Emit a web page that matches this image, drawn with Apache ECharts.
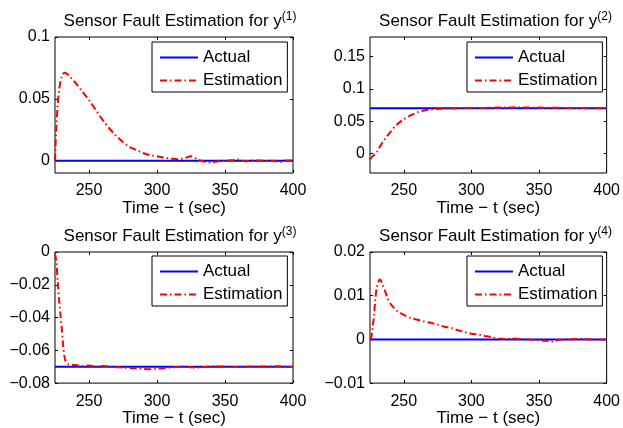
<!DOCTYPE html>
<html>
<head>
<meta charset="utf-8">
<script src="https://cdn.jsdelivr.net/npm/echarts@6/dist/echarts.min.js"></script>
<style>
  html, body { margin: 0; padding: 0; background: #fff; }
  #chart { width: 623px; height: 428px; }
</style>
</head>
<body>
<div id="chart"></div>
<script>
// Sensor fault estimates for the four outputs, sampled over t = 225..400 s
const t1 = [225,226,227,228,230,232,234,236,240,245,250,255,260,265,270,275,280,285,290,295,300,305,310,315,320,325,330,335,340,345,350,355,360,365,370,375,380,385,390,395,400];
const est1 = [0,0.028,0.045,0.057,0.068,0.071,0.070,0.068,0.063,0.056,0.049,0.041,0.033,0.026,0.020,0.015,0.011,0.0085,0.006,0.0045,0.0035,0.0025,0.0018,0.0012,0.002,0.0035,0.001,-0.001,-0.0015,-0.0005,0,0.0003,0.001,-0.0005,0,0.0002,-0.0003,0,-0.0012,0.0002,0];

const t2 = [225,227,230,233,236,240,245,250,255,260,265,270,275,280,290,300,310,320,330,335,340,350,360,370,380,390,400];
const est2 = [-0.009,-0.004,0.002,0.013,0.022,0.033,0.045,0.053,0.059,0.0635,0.0665,0.068,0.069,0.0695,0.0700,0.0705,0.0705,0.071,0.0712,0.0715,0.0712,0.071,0.0708,0.0705,0.0702,0.0700,0.0698];

const t3 = [225,226,227,228,229,230,231,232,233,235,240,245,250,255,260,265,270,275,280,285,290,295,300,305,310,315,320,325,330,335,340,350,360,370,380,390,400];
const est3 = [-0.001,-0.006,-0.018,-0.029,-0.038,-0.047,-0.057,-0.064,-0.067,-0.0685,-0.069,-0.0695,-0.0692,-0.070,-0.0695,-0.070,-0.0703,-0.0705,-0.0708,-0.071,-0.0713,-0.0715,-0.0712,-0.071,-0.0705,-0.0702,-0.070,-0.0703,-0.0705,-0.0702,-0.0698,-0.0699,-0.0701,-0.0698,-0.0699,-0.0697,-0.0702];

const t4 = [225,226,227,228,229,230,231,232,233,234,236,238,240,243,246,250,255,260,265,270,275,280,285,290,295,300,305,310,315,320,325,330,335,340,345,350,355,360,362,365,370,380,390,400];
const est4 = [0,0.0005,0.003,0.0055,0.0095,0.0118,0.013,0.0137,0.0135,0.0128,0.0112,0.0094,0.0082,0.0071,0.0063,0.0056,0.0049,0.0045,0.0041,0.0038,0.0034,0.0029,0.0026,0.0021,0.0017,0.0013,0.0011,0.0008,0.0005,0.0002,0.0001,0.0002,0.0001,0,-0.0001,-0.0002,-0.0003,-0.0005,-0.0003,-0.0001,0,0.0001,0,0];

// True (constant) fault levels
const actualLevels = [0, 0.07, -0.07, 0];

// Axis ranges and tick labels
const xRange = [225, 400];
const xTicks = [250, 300, 350, 400];
const yRanges = [[-0.01, 0.1], [-0.03, 0.18], [-0.08, 0], [-0.01, 0.02]];
const yTicks = [
  [0, 0.05, 0.1],
  [0, 0.05, 0.1, 0.15],
  [-0.08, -0.06, -0.04, -0.02, 0],
  [-0.01, 0, 0.01, 0.02]
];
const outputIdx = ['1', '2', '3', '4'];
const seriesNames = ['Actual', 'Estimation'];
const xName = 'Time \u2212 t (sec)';

const times = [t1, t2, t3, t4];
const estimates = [est1, est2, est3, est4];

const FONT = '"Liberation Sans", Arial, Helvetica, sans-serif';
const TICK_FS = 16;
const TEXT_FS = 17;

const panels = [
  { left: 55,  top: 37,  width: 238, height: 136, legend: [152, 42] },
  { left: 370, top: 37,  width: 239, height: 136, legend: [467, 42] },
  { left: 55,  top: 252, width: 238, height: 135, legend: [152, 256] },
  { left: 370, top: 252, width: 239, height: 135, legend: [467, 256] }
];

const fmt = v => String(v).replace('-', '\u2212');

const grid = [], xAxis = [], yAxis = [], series = [], title = [], legend = [];

panels.forEach((p, i) => {
  grid.push({
    left: p.left, top: p.top, width: p.width, height: p.height,
    show: true, borderColor: '#000', borderWidth: 1, backgroundColor: '#fff'
  });
  const tickStyle = { show: true, inside: true, length: 3, lineStyle: { color: '#000', width: 1 } };
  const hiddenLine = { show: false, onZero: false };
  // bottom axis (labels) and top axis (ticks only)
  xAxis.push({
    type: 'value', gridIndex: i, min: xRange[0], max: xRange[1], position: 'bottom',
    axisLine: hiddenLine, splitLine: { show: false },
    axisTick: Object.assign({ customValues: xTicks }, tickStyle),
    axisLabel: { customValues: xTicks, color: '#000', fontSize: TICK_FS, fontFamily: FONT, margin: 10 },
    name: xName, nameLocation: 'middle', nameGap: 21,
    nameTextStyle: { color: '#000', fontSize: TEXT_FS, fontFamily: FONT }
  });
  xAxis.push({
    type: 'value', gridIndex: i, min: xRange[0], max: xRange[1], position: 'top',
    axisLine: hiddenLine, splitLine: { show: false },
    axisTick: Object.assign({ customValues: xTicks }, tickStyle),
    axisLabel: { show: false }
  });
  // left axis (labels) and right axis (ticks only)
  yAxis.push({
    type: 'value', gridIndex: i, min: yRanges[i][0], max: yRanges[i][1], position: 'left',
    axisLine: hiddenLine, splitLine: { show: false },
    axisTick: Object.assign({ customValues: yTicks[i] }, tickStyle),
    axisLabel: { customValues: yTicks[i], color: '#000', fontSize: TICK_FS, fontFamily: FONT, margin: 5, formatter: fmt }
  });
  yAxis.push({
    type: 'value', gridIndex: i, min: yRanges[i][0], max: yRanges[i][1], position: 'right',
    axisLine: hiddenLine, splitLine: { show: false },
    axisTick: Object.assign({ customValues: yTicks[i] }, tickStyle),
    axisLabel: { show: false }
  });

  const tArr = times[i];
  series.push({
    name: seriesNames[0], type: 'line', xAxisIndex: 2 * i, yAxisIndex: 2 * i,
    data: tArr.map(t => [t, actualLevels[i]]),
    symbol: 'none', animation: false, z: 2,
    lineStyle: { color: '#0000ff', width: 2 }, itemStyle: { color: '#0000ff' }
  });
  series.push({
    name: seriesNames[1], type: 'line', xAxisIndex: 2 * i, yAxisIndex: 2 * i,
    data: tArr.map((t, k) => [t, estimates[i][k]]),
    symbol: 'none', animation: false, z: 3, smooth: 0.3,
    lineStyle: { color: '#ff0000', width: 2, type: [7, 3, 1.5, 3] }, itemStyle: { color: '#ff0000' }
  });

  title.push({
    text: '{m|Sensor Fault Estimation for y}{s|(' + outputIdx[i] + ')}',
    left: p.left + p.width / 2 + 6, top: p.top - 26, textAlign: 'center', padding: 0,
    textStyle: {
      fontWeight: 'normal',
      rich: {
        m: { fontSize: TEXT_FS, lineHeight: 21, fontFamily: FONT, color: '#000', fontWeight: 'normal' },
        s: { fontSize: 12, lineHeight: 12, fontFamily: FONT, color: '#000', fontWeight: 'normal', verticalAlign: 'top' }
      }
    }
  });

  legend.push({
    orient: 'vertical', left: p.legend[0], top: p.legend[1],
    padding: [7, 5, 3, 7], itemGap: 6, itemWidth: 38, itemHeight: 6,
    backgroundColor: '#fff', borderColor: '#000', borderWidth: 1,
    selectedMode: false, data: seriesNames,
    itemStyle: { color: 'rgba(0,0,0,0)', borderColor: 'rgba(0,0,0,0)', borderWidth: 0, opacity: 0 },
    textStyle: { color: '#000', fontSize: TEXT_FS, fontFamily: FONT }
  });
});

const chart = echarts.init(document.getElementById('chart'), null, { renderer: 'canvas' });
chart.setOption({
  animation: false,
  backgroundColor: '#fff',
  title, legend, grid, xAxis, yAxis, series
});
</script>
</body>
</html>
